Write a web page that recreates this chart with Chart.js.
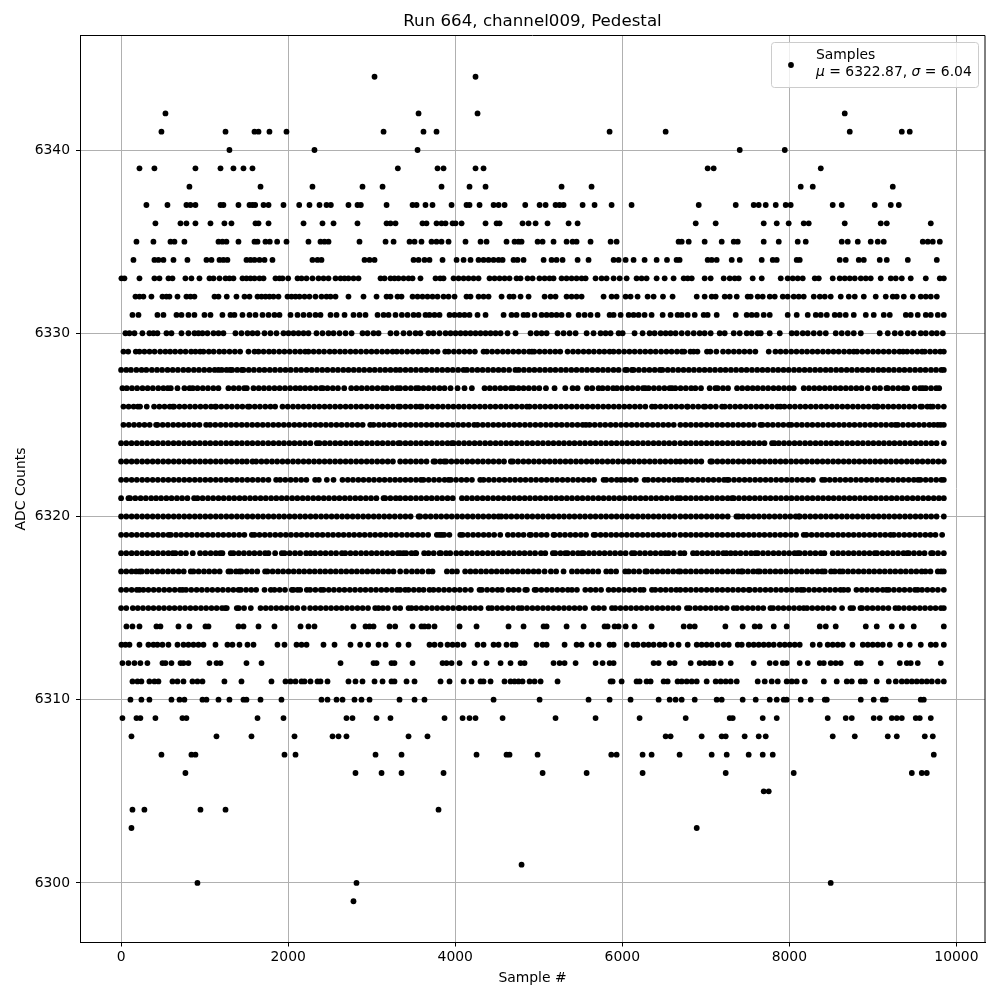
<!DOCTYPE html>
<html>
<head>
<meta charset="utf-8">
<title>Run 664, channel009, Pedestal</title>
<script src="https://cdn.jsdelivr.net/npm/chart.js@4"></script>
<style>
  html, body { margin: 0; padding: 0; background: #fff; }
  #wrap { width: 1000px; height: 1000px; }
</style>
</head>
<body>
<div id="wrap"><canvas id="pedestal"></canvas></div>
<script>
// sample numbers, one list per ADC level
const s6344 = [3034,4243];
const s6342 = [531,3561,4267,8663];
const s6341 = [483,1250,1597,1645,1776,1980,3142,3620,3776,5848,6519,8723,9346,9441];
const s6340 = [1297,2315,3549,7406,7945];
const s6339 = [220,399,890,1190,1345,1465,1573,3313,3788,3860,4243,4339,7022,7094,8376];
const s6338 = [818,1669,2291,2890,3130,3836,4171,4363,5273,5632,8136,8280,9238];
const s6337 = [303,555,782,830,890,1190,1225,1405,1537,1573,1605,1705,1765,1944,2132,2255,2375,2459,2511,2722,2830,2870,3178,3489,3537,3644,3728,3956,4135,4171,4291,4459,4519,4591,4838,5010,5082,5201,5249,5297,5525,5668,5872,6111,6915,7358,7573,7633,7717,7837,7956,8016,8519,8627,9022,9214,9310];
const s6336 = [411,711,782,890,1070,1237,1321,1609,1645,1765,2184,2411,2543,2830,3178,3225,3285,3608,3656,3776,3836,3884,3968,4004,4076,4363,4495,4531,4806,4878,4962,5105,5357,5465,6879,7118,7693,7849,7992,8172,8232,8663,9094,9166,9693];
const s6335 = [184,387,591,639,758,1166,1213,1261,1405,1597,1633,1728,1780,1868,1980,2243,2387,2435,2483,2854,3166,3262,3453,3513,3596,3716,3776,3836,3920,4123,4303,4375,4614,4710,4758,4794,4986,5046,5177,5333,5405,5453,5620,5860,5932,6674,6711,6795,6986,7190,7334,7382,7693,7873,8100,8196,8627,8699,8819,8974,9058,9130,9597,9657,9717,9801];
const s6334 = [148,399,447,507,627,794,1022,1082,1178,1225,1273,1501,1549,1597,1657,1717,1812,2291,2351,2399,2914,2974,3034,3501,3561,3632,3692,3848,4016,4100,4183,4279,4339,4399,4459,4519,4567,4698,4746,4818,5058,5153,5213,5285,5465,5596,5896,5956,6040,6135,6267,6411,6535,6650,6686,7022,7070,7130,7310,7406,7669,7801,7849,8088,8124,8603,8675,8831,8891,9082,9166,9418,9765];
const s6333 = [4,40,220,399,459,567,615,770,842,938,1058,1106,1178,1250,1297,1345,1453,1501,1549,1597,1657,1705,1848,1896,1932,2000,2112,2160,2220,2291,2363,2423,2483,2567,2627,2675,2722,2782,2842,3106,3154,3225,3273,3321,3381,3441,3489,3584,3764,3820,3860,3980,4040,4100,4159,4219,4279,4411,4471,4531,4591,4650,4734,4782,4866,4926,5008,5070,5129,5177,5273,5333,5393,5453,5513,5561,5680,5752,5812,5896,5968,6052,6171,6231,6291,6411,6507,6614,6735,6783,6831,6986,7058,7214,7286,7346,7394,7561,7669,7897,7980,8040,8100,8160,8304,8352,8519,8603,8663,8723,8783,8855,8915,8974,9094,9214,9274,9346,9453,9633,9801,9849];
const s6332 = [172,220,267,363,495,543,579,675,782,830,878,1118,1166,1265,1381,1477,1537,1633,1681,1729,1776,1824,1884,1992,2040,2088,2136,2196,2255,2327,2399,2459,2507,2567,2722,2902,3058,3178,3225,3309,3357,3489,3549,3608,3668,3728,3788,3860,3920,3992,4135,4183,4279,4339,4399,4555,4650,4698,4782,4878,5070,5141,5201,5333,5393,5453,5513,5776,5872,5932,6040,6099,6183,6303,6375,6487,6602,6891,6986,7070,7118,7226,7286,7370,7501,7537,7621,7681,7765,7825,7921,7980,8052,8112,8172,8292,8364,8424,8495,8615,8711,8783,8891,9034,9154,9238,9286,9370,9477,9573,9633,9693,9765];
const s6331 = [136,208,435,507,663,723,806,878,998,1070,1213,1309,1357,1453,1537,1609,1693,1765,1836,1896,2028,2112,2184,2255,2327,2387,2507,2579,2675,2782,2854,2926,3070,3142,3202,3285,3361,3429,3501,3561,3644,3692,3752,3812,3932,3992,4052,4111,4171,4267,4363,4579,4674,4734,4818,4866,4950,5034,5094,5153,5213,5273,5357,5477,5549,5620,5704,5848,5896,5980,6076,6135,6195,6267,6351,6483,6578,6662,6711,6783,6867,6974,7022,7130,7358,7489,7549,7609,7693,7765,7980,8088,8220,8316,8376,8448,8543,8603,8675,8771,8915,9010,9130,9202,9394,9453,9537,9633,9693,9777,9849];
const s6330 = [52,100,160,255,339,387,435,543,603,723,806,878,926,974,1034,1106,1166,1225,1369,1441,1513,1573,1633,1717,1788,1860,1944,2004,2064,2124,2184,2243,2339,2411,2483,2543,2615,2687,2759,2890,2950,3022,3082,3225,3297,3381,3453,3525,3584,3680,3740,3812,3884,3944,4004,4064,4123,4183,4243,4303,4363,4423,4483,4543,4626,4722,4902,4974,5034,5094,5225,5297,5369,5441,5573,5656,5740,5800,5860,5956,6004,6147,6243,6327,6387,6459,6519,6578,6638,6711,6783,6855,6926,6986,7058,7166,7226,7334,7406,7489,7549,7621,7657,7765,7885,8028,8088,8160,8220,8292,8364,8436,8555,8627,8699,8771,8855,9082,9178,9262,9334,9418,9489,9573,9633,9705,9765,9837];
const s6329 = [28,85,176,220,279,340,401,468,530,587,647,710,772,838,890,946,986,1050,1108,1175,1233,1298,1362,1425,1525,1597,1645,1706,1770,1828,1893,1955,2018,2083,2144,2204,2243,2305,2368,2430,2497,2556,2620,2681,2746,2808,2871,2935,2998,3060,3125,3186,3250,3301,3361,3425,3490,3552,3612,3660,3725,3788,3880,3920,3984,4046,4110,4172,4235,4339,4379,4442,4505,4570,4631,4695,4758,4822,4885,4918,4946,5010,5072,5135,5198,5257,5345,5410,5472,5536,5598,5660,5725,5785,5848,5896,5958,6022,6085,6148,6212,6275,6338,6400,6465,6528,6590,6654,6714,6742,6815,6854,6900,7014,7054,7126,7206,7270,7335,7398,7462,7526,7593,7753,7833,7895,7958,8022,8085,8150,8212,8276,8338,8402,8465,8528,8590,8655,8718,8771,8811,8874,8938,9002,9064,9128,9190,9255,9318,9362,9410,9470,9532,9589,9621,9684,9746,9806,9849];
const s6328 = [0,62,118,183,245,302,368,430,491,556,618,680,745,806,871,932,995,1058,1120,1165,1205,1262,1305,1330,1390,1445,1465,1528,1590,1655,1716,1780,1842,1905,1968,2030,2095,2156,2220,2282,2345,2408,2470,2535,2596,2660,2722,2785,2848,2910,2975,3036,3100,3162,3225,3288,3341,3405,3468,3530,3594,3656,3720,3782,3845,3908,3970,4035,4100,4140,4202,4266,4328,4392,4455,4518,4580,4645,4720,4760,4822,4886,4948,5012,5075,5138,5200,5265,5326,5390,5452,5516,5578,5642,5705,5768,5830,5895,5956,6035,6055,6115,6135,6198,6262,6325,6388,6450,6480,6544,6606,6670,6733,6796,6858,6922,6985,7048,7110,7175,7236,7300,7362,7426,7488,7552,7615,7678,7740,7805,7866,7930,7992,8056,8118,8182,8245,8308,8370,8435,8496,8560,8622,8686,8748,8812,8875,8938,9000,9065,9126,9190,9252,9316,9378,9442,9505,9568,9630,9695,9756,9820,9849];
const s6327 = [16,68,130,192,256,318,380,445,506,559,595,675,758,820,858,915,978,1040,1104,1165,1285,1348,1410,1474,1505,1585,1648,1710,1772,1836,1898,1962,2024,2088,2144,2204,2266,2330,2392,2415,2471,2534,2596,2671,2755,2818,2880,2944,3006,3070,3134,3181,3245,3305,3341,3404,3468,3530,3561,3620,3682,3746,3812,3872,3944,4028,4111,4199,4351,4414,4476,4540,4602,4666,4698,4758,4818,4880,4944,5006,5086,5189,5317,5405,5465,5577,5640,5716,5764,5826,5890,5936,5996,6060,6122,6186,6248,6275,6315,6378,6440,6504,6566,6595,6635,6698,6760,6824,6875,6942,7046,7114,7142,7205,7266,7374,7436,7500,7561,7621,7684,7746,7810,7872,7936,7998,8052,8172,8235,8298,8360,8424,8486,8550,8612,8676,8738,8802,8864,8939,9022,9085,9162,9178,9240,9304,9366,9410,9501,9564,9597,9633,9696,9758,9793];
const s6326 = [28,90,150,200,227,307,395,458,520,582,619,635,698,760,824,886,950,1012,1076,1126,1138,1200,1264,1326,1390,1452,1517,1537,1600,1662,1726,1788,1844,1932,1995,2058,2120,2184,2246,2310,2372,2436,2498,2562,2624,2688,2750,2814,2876,2940,3002,3066,3128,3192,3254,3318,3341,3404,3466,3530,3580,3600,3664,3726,3790,3852,3916,3978,4042,4104,4168,4230,4294,4356,4420,4482,4546,4608,4672,4734,4798,4858,4890,4953,5016,5078,5142,5204,5268,5330,5394,5456,5520,5582,5646,5708,5772,5834,5898,5960,6024,6086,6150,6212,6276,6355,6395,6458,6520,6584,6646,6710,6774,6783,6846,6910,6975,6994,7056,7120,7194,7226,7288,7352,7414,7478,7540,7604,7666,7730,7792,7856,7893,7941,8004,8066,8130,8192,8256,8318,8382,8444,8508,8570,8634,8696,8760,8822,8886,8948,9012,9050,9058,9120,9184,9246,9310,9372,9436,9498,9569,9589,9652,9689,9717,9780,9849];
const s6325 = [28,92,155,217,280,342,419,435,498,560,624,686,750,812,876,938,1018,1066,1128,1192,1254,1318,1380,1444,1506,1570,1632,1696,1758,1822,1884,1948,2010,2074,2136,2200,2262,2326,2388,2452,2514,2578,2640,2704,2766,2830,2892,2982,3022,3086,3148,3212,3274,3341,3404,3466,3530,3592,3656,3718,3782,3844,3908,3970,4034,4096,4160,4227,4267,4330,4392,4456,4518,4582,4644,4708,4770,4834,4896,4960,5022,5086,5148,5212,5274,5338,5400,5464,5526,5565,5608,5670,5734,5796,5860,5922,5986,6048,6112,6174,6238,6300,6364,6426,6490,6552,6616,6695,6758,6820,6884,6946,7010,7072,7136,7198,7262,7324,7388,7450,7514,7576,7653,7677,7740,7802,7866,7928,7992,8024,8088,8150,8214,8276,8340,8402,8466,8528,8592,8654,8718,8780,8844,8906,8970,9032,9096,9158,9222,9270,9298,9360,9424,9486,9550,9612,9676,9729,9777,9812,9849];
const s6324 = [0,62,125,188,250,312,376,438,502,564,628,690,754,816,880,942,1006,1068,1132,1194,1258,1320,1384,1446,1510,1572,1636,1698,1762,1824,1888,1950,2014,2076,2140,2202,2266,2343,2375,2438,2500,2564,2626,2690,2752,2816,2878,2942,3004,3068,3130,3194,3256,3320,3341,3404,3466,3530,3592,3656,3718,3782,3844,3908,3960,3980,4042,4106,4168,4232,4294,4358,4420,4484,4546,4610,4672,4736,4798,4862,4924,4988,5050,5114,5176,5240,5302,5366,5428,5492,5554,5618,5680,5744,5806,5870,5932,5996,6058,6122,6184,6248,6310,6374,6436,6500,6562,6626,6695,6758,6820,6884,6946,7010,7072,7136,7198,7262,7324,7388,7450,7514,7576,7640,7702,7793,7821,7873,7936,7998,8062,8124,8188,8250,8314,8376,8440,8502,8566,8628,8692,8754,8818,8880,8944,9006,9070,9132,9196,9258,9322,9384,9448,9510,9574,9636,9700,9762,9849];
const s6323 = [0,63,126,188,252,314,378,440,504,566,630,692,756,818,882,944,1008,1070,1134,1196,1260,1322,1386,1448,1505,1573,1617,1680,1742,1806,1868,1932,1994,2058,2120,2184,2246,2310,2372,2436,2498,2562,2624,2688,2750,2814,2876,2940,3002,3066,3128,3192,3254,3341,3404,3466,3530,3592,3656,3740,3760,3820,3868,3892,3954,4018,4080,4144,4206,4270,4332,4396,4458,4522,4584,4666,4690,4752,4816,4878,4942,5004,5068,5130,5194,5256,5320,5382,5446,5508,5572,5634,5698,5760,5824,5886,5950,6012,6076,6138,6202,6264,6328,6390,6454,6516,6580,6642,6695,6758,6820,6884,6946,7055,7075,7138,7200,7264,7326,7390,7452,7516,7578,7642,7704,7768,7830,7894,7956,8020,8082,8146,8208,8272,8334,8398,8460,8524,8586,8650,8712,8776,8838,8902,8964,9028,9090,9154,9216,9280,9342,9406,9468,9532,9594,9658,9720,9784,9849];
const s6322 = [0,62,126,188,252,314,378,440,504,566,630,692,756,818,882,944,1008,1070,1134,1196,1260,1322,1386,1448,1512,1574,1638,1700,1764,1856,1904,1966,2030,2092,2156,2218,2323,2367,2463,2543,2650,2714,2776,2840,2902,2966,3028,3092,3154,3218,3280,3341,3404,3466,3530,3589,3620,3682,3746,3808,3872,3920,3948,4010,4074,4136,4200,4299,4339,4402,4464,4528,4590,4654,4716,4780,4842,4906,4968,5032,5094,5158,5220,5284,5346,5410,5472,5536,5598,5662,5776,5808,5870,5934,5984,6036,6098,6162,6267,6307,6370,6432,6496,6558,6622,6674,6715,6778,6840,6904,6966,7030,7092,7156,7218,7254,7274,7338,7400,7464,7526,7590,7652,7716,7778,7842,7904,7968,8030,8094,8156,8220,8282,8392,8424,8483,8546,8608,8672,8734,8798,8860,8924,8986,9050,9112,9176,9238,9302,9364,9428,9490,9541,9569,9632,9694,9758,9820,9849];
const s6321 = [0,88,108,170,234,296,360,419,479,542,604,668,730,794,874,914,976,1040,1102,1166,1228,1292,1354,1418,1480,1544,1606,1670,1732,1796,1858,1922,1984,2048,2110,2174,2236,2300,2362,2426,2488,2552,2614,2678,2740,2804,2866,2930,2992,3056,3142,3162,3224,3288,3341,3404,3466,3530,3592,3656,3718,3782,3844,3908,3970,4080,4139,4202,4264,4328,4390,4454,4516,4580,4642,4706,4768,4832,4894,4958,5020,5084,5146,5210,5272,5336,5398,5462,5524,5588,5650,5714,5776,5840,5902,5966,6028,6092,6154,6218,6280,6344,6406,6470,6532,6596,6658,6695,6758,6820,6884,6946,7010,7072,7136,7198,7262,7314,7334,7396,7460,7522,7586,7648,7712,7774,7838,7900,7964,8026,8090,8152,8216,8278,8342,8404,8468,8530,8594,8656,8720,8782,8846,8908,8972,9034,9098,9160,9224,9286,9350,9412,9476,9538,9602,9664,9728,9790,9849];
const s6320 = [0,62,126,188,252,314,378,440,504,566,630,692,756,818,882,944,1008,1070,1134,1196,1260,1322,1386,1448,1512,1574,1638,1700,1764,1826,1890,1952,2016,2078,2142,2204,2268,2330,2394,2456,2520,2582,2646,2708,2772,2834,2898,2960,3024,3086,3150,3212,3276,3341,3404,3466,3561,3581,3644,3706,3770,3832,3896,3958,4022,4084,4148,4210,4274,4336,4400,4462,4519,4551,4610,4672,4736,4798,4862,4924,4988,5050,5114,5176,5240,5302,5366,5428,5492,5554,5618,5680,5744,5806,5870,5932,5996,6058,6122,6184,6248,6310,6374,6436,6500,6562,6626,6695,6758,6820,6884,6946,7010,7072,7136,7198,7262,7366,7394,7446,7508,7572,7634,7698,7760,7824,7886,7950,8012,8076,8112,8124,8186,8250,8312,8376,8438,8502,8564,8628,8690,8754,8816,8880,8942,9006,9068,9132,9194,9258,9320,9384,9446,9510,9572,9636,9698,9762,9849];
const s6319 = [0,62,126,188,252,314,378,440,504,567,595,658,720,784,846,910,972,1036,1098,1162,1224,1288,1350,1414,1476,1565,1597,1657,1720,1782,1846,1908,1972,2034,2098,2160,2224,2286,2350,2412,2476,2538,2602,2664,2728,2790,2854,2916,2980,3042,3106,3168,3232,3294,3361,3424,3486,3550,3612,3676,3780,3812,3840,3868,3930,4060,4088,4150,4214,4276,4340,4402,4466,4539,4630,4692,4756,4818,4890,4906,4968,5032,5094,5177,5189,5252,5314,5378,5440,5504,5566,5657,5677,5740,5802,5866,5928,5992,6054,6118,6180,6244,6306,6370,6432,6496,6558,6622,6695,6758,6820,6884,6946,7010,7072,7136,7198,7262,7324,7388,7450,7514,7576,7640,7702,7766,7828,7892,7954,8018,8080,8172,8204,8266,8330,8392,8456,8518,8582,8644,8708,8770,8834,8896,8960,9022,9086,9148,9210,9250,9312,9376,9438,9502,9564,9628,9689,9749,9829];
const s6318 = [0,62,126,188,252,314,378,440,504,566,619,651,714,776,858,946,1008,1072,1134,1186,1213,1313,1345,1408,1470,1534,1596,1660,1724,1764,1844,1924,1956,2018,2082,2144,2215,2267,2323,2386,2448,2512,2574,2643,2683,2746,2808,2872,2934,2998,3060,3124,3186,3250,3312,3341,3381,3413,3476,3521,3533,3628,3680,3742,3812,3828,3890,3940,4012,4074,4138,4200,4264,4326,4390,4452,4516,4578,4642,4704,4768,4830,4894,4956,5026,5078,5169,5197,5260,5317,5345,5408,5470,5517,5537,5600,5662,5726,5788,5852,5914,5978,6040,6115,6147,6210,6272,6336,6398,6462,6515,6554,6616,6694,6743,6847,6895,6958,7020,7084,7146,7210,7246,7298,7354,7416,7480,7542,7593,7621,7684,7746,7810,7872,7936,7998,8062,8100,8124,8186,8250,8312,8376,8419,8519,8582,8644,8708,8770,8834,8896,8960,9022,9050,9114,9176,9240,9302,9366,9410,9430,9492,9556,9618,9697,9717,9780,9849];
const s6317 = [0,62,126,180,220,247,310,372,436,498,562,624,688,750,834,866,928,992,1054,1118,1180,1285,1313,1376,1417,1441,1504,1566,1630,1724,1752,1814,1878,1940,2004,2066,2130,2192,2256,2318,2382,2444,2508,2570,2634,2696,2760,2822,2886,2948,3012,3074,3138,3200,3261,3341,3413,3481,3544,3606,3680,3728,3900,3962,4020,4119,4182,4244,4308,4370,4434,4496,4560,4622,4686,4748,4812,4874,4938,4998,5070,5145,5208,5297,5397,5460,5522,5586,5648,5712,5808,5864,5926,6036,6076,6138,6202,6275,6295,6358,6420,6484,6546,6610,6672,6695,6758,6820,6884,6946,7010,7072,7136,7198,7262,7324,7388,7426,7442,7504,7568,7621,7645,7708,7770,7834,7896,7960,8022,8086,8148,8212,8274,8338,8392,8424,8499,8543,8603,8639,8702,8764,8828,8890,8954,9016,9080,9142,9206,9268,9332,9394,9458,9520,9584,9629,9689,9777,9817,9849];
const s6316 = [0,62,126,188,220,267,327,390,452,516,578,642,704,738,778,840,904,966,1030,1092,1156,1218,1282,1344,1405,1433,1496,1558,1617,1717,1792,1836,1898,1962,2044,2064,2112,2144,2223,2263,2326,2391,2423,2486,2548,2612,2674,2738,2800,2864,2926,2990,3052,3116,3178,3242,3304,3341,3401,3441,3504,3566,3621,3692,3740,3802,3866,3928,3992,4054,4119,4187,4291,4319,4382,4444,4508,4559,4638,4698,4760,4838,4858,4950,4970,5032,5096,5158,5222,5284,5348,5397,5457,5557,5620,5682,5746,5836,5896,5958,6022,6084,6148,6215,6255,6355,6395,6458,6520,6584,6646,6695,6758,6820,6884,6946,7010,7072,7136,7198,7262,7324,7388,7450,7513,7525,7588,7650,7714,7776,7840,7902,7966,8028,8092,8140,8172,8234,8298,8360,8424,8486,8550,8612,8651,8703,8803,8866,8928,8992,9054,9118,9162,9190,9252,9316,9378,9442,9504,9537,9589,9652,9714,9778,9849];
const s6315 = [0,62,140,200,262,326,388,452,514,578,640,704,766,830,892,956,1018,1082,1144,1208,1245,1265,1385,1409,1472,1553,1669,1732,1794,1858,1920,1984,2046,2110,2188,2263,2326,2388,2452,2514,2578,2640,2704,2766,2830,2892,2956,3042,3082,3134,3194,3281,3341,3441,3477,3533,3596,3658,3722,3784,3848,3910,3974,4040,4052,4114,4178,4240,4304,4399,4439,4502,4564,4628,4690,4758,4798,4860,4924,4986,5050,5112,5176,5238,5302,5364,5428,5490,5554,5657,5716,5780,5876,5916,5978,6042,6104,6168,6230,6294,6356,6420,6482,6546,6608,6672,6774,6806,6874,6935,6998,7060,7124,7186,7250,7334,7374,7436,7500,7562,7626,7688,7773,7805,7868,7930,7994,8056,8120,8172,8212,8274,8338,8400,8464,8531,8631,8731,8763,8851,8871,8934,8996,9060,9122,9186,9270,9310,9372,9436,9498,9562,9624,9688,9750,9814,9849];
const s6314 = [64,136,220,423,471,687,818,1010,1046,1405,1465,1645,1836,2148,2243,2315,2782,2926,2974,3022,3214,3281,3489,3596,3632,3680,3752,4052,4255,4638,4818,5058,5094,5333,5537,5788,5824,5908,5956,6040,6147,6351,6735,6807,6867,7234,7441,7585,7645,7813,7968,8364,8436,8555,8915,9046,9226,9346,9489,9849];
const s6313 = [4,52,100,220,327,387,435,495,567,675,747,806,866,926,986,1130,1273,1333,1417,1513,1585,1872,1956,2100,2160,2220,2423,2555,2746,2862,2958,3082,3166,3321,3441,3692,3752,3824,3908,3968,4028,4100,4267,4339,4459,4519,4614,4686,4722,4974,5046,5094,5309,5453,5513,5632,5716,5848,5896,6052,6135,6183,6255,6315,6375,6447,6507,6590,6674,6783,6891,6950,7010,7070,7142,7214,7274,7382,7430,7513,7573,7633,7693,7753,7813,7885,7945,8004,8064,8124,8280,8364,8459,8519,8579,8639,8755,8879,8939,8998,9058,9118,9202,9330,9441,9573,9693,9753,9849];
const s6312 = [16,88,160,231,315,495,531,603,711,747,806,1058,1142,1190,1501,1681,2627,3022,3058,3237,3273,3489,3848,3896,3956,4052,4231,4375,4543,4662,4782,4830,5177,5249,5309,5441,5680,5764,5848,5896,6375,6435,6567,6626,6819,6926,6986,7046,7094,7178,7298,7573,7765,7837,7921,7968,8124,8220,8364,8412,8495,8555,8615,8807,8855,9094,9322,9406,9453,9537,9813];
const s6311 = [136,196,243,339,399,447,615,675,747,854,914,974,1237,1441,1800,1968,2028,2088,2160,2196,2267,2351,2387,2471,2722,2806,2890,3034,3130,3237,3273,3417,3513,3824,3932,4100,4195,4303,4339,4423,4590,4662,4710,4758,4806,4890,4950,5022,5225,5860,5884,5992,6171,6207,6291,6339,6495,6543,6662,6711,6771,6831,6891,7010,7118,7178,7238,7298,7370,7621,7705,7789,7861,7968,8028,8088,8184,8412,8567,8687,8747,8855,8903,9046,9190,9274,9346,9406,9466,9525,9585,9645,9705,9777,9849];
const s6310 = [112,243,339,603,699,758,974,1022,1166,1297,1465,1501,1669,1920,2399,2471,2579,2651,2794,2878,2974,3333,3513,3632,4459,5010,5596,5848,6099,6435,6567,6638,6711,6867,7130,7190,7441,7597,7765,7849,7933,7968,8136,8256,8424,8448,8855,9010,9118,9154,9573,9609];
const s6309 = [16,184,231,411,734,782,1633,1944,2698,2770,3058,3225,3872,4088,4171,4243,4567,5201,5680,6207,6759,7286,7322,7681,7849,8459,8675,8747,9010,9082,9226,9286,9346,9513,9561,9693];
const s6308 = [124,1142,1561,2076,2531,2603,2698,3441,3668,6519,6578,6950,7190,7238,7465,7633,7717,8519,8783,9178,9286,9621,9717];
const s6307 = [483,842,890,1956,2088,3046,3357,4255,4614,4650,4986,5868,5932,6243,6351,6686,7070,7250,7513,7681,7801,9729];
const s6306 = [770,2806,3118,3357,3860,5046,5573,6243,7238,8052,9466,9585,9645];
const s6305 = [7693,7753];
const s6304 = [136,279,950,1250,3800];
const s6303 = [124,6891];
const s6301 = [4794];
const s6300 = [914,2818,8495];
const s6299 = [2782];

const levels = [6344,6342,6341,6340,6339,6338,6337,6336,6335,6334,6333,6332,6331,6330,6329,6328,6327,6326,6325,6324,6323,6322,6321,6320,6319,6318,6317,6316,6315,6314,6313,6312,6311,6310,6309,6308,6307,6306,6305,6304,6303,6301,6300,6299];
const sampleRows = [s6344,s6342,s6341,s6340,s6339,s6338,s6337,s6336,s6335,s6334,s6333,s6332,s6331,s6330,s6329,s6328,s6327,s6326,s6325,s6324,s6323,s6322,s6321,s6320,s6319,s6318,s6317,s6316,s6315,s6314,s6313,s6312,s6311,s6310,s6309,s6308,s6307,s6306,s6305,s6304,s6303,s6301,s6300,s6299];

const xTickValues = [0,2000,4000,6000,8000,10000];
const yTickValues = [6300,6310,6320,6330,6340];

const titleText = "Run 664, channel009, Pedestal";
const xLabel = "Sample #";
const yLabel = "ADC Counts";
const seriesName = "Samples";
const meanValue = "6322.87";
const sigmaValue = "6.04";

const FONT = '"DejaVu Sans", sans-serif';
const points = [];
levels.forEach((lvl, i) => sampleRows[i].forEach(s => points.push({ x: s, y: lvl })));

// top and right spines, title centred on the axes, mathtext legend
const framePlugin = {
  id: "frame",
  afterLayout(chart) {
    chart.titleBlock.left = chart.chartArea.left;
    chart.titleBlock.right = chart.chartArea.right;
  },
  afterDatasetsDraw(chart) {
    const { ctx, chartArea: a } = chart;
    ctx.save();
    ctx.strokeStyle = "#000";
    ctx.lineWidth = 1;
    ctx.beginPath();
    ctx.moveTo(a.left, a.top);
    ctx.lineTo(a.right, a.top);
    ctx.lineTo(a.right, a.bottom);
    ctx.stroke();

    // legend box
    ctx.beginPath();
    ctx.roundRect(771.5, 42.5, 207, 45, 3);
    ctx.fillStyle = "rgba(255,255,255,0.8)";
    ctx.fill();
    ctx.strokeStyle = "#cccccc";
    ctx.stroke();
    ctx.fillStyle = "#000";
    ctx.beginPath();
    ctx.arc(791, 65, 2.9, 0, Math.PI * 2);
    ctx.fill();

    ctx.textBaseline = "alphabetic";
    ctx.textAlign = "left";
    const plain = "13.9px " + FONT, ital = "italic 13.9px " + FONT;
    ctx.font = plain;
    ctx.fillText(seriesName, 816, 59);
    let x = 816;
    [[ital, "\u03bc"], [plain, " = " + meanValue + ", "], [ital, "\u03c3"], [plain, " = " + sigmaValue]].forEach(([f, t]) => {
      ctx.font = f;
      ctx.fillText(t, x, 76);
      x += ctx.measureText(t).width;
    });
    ctx.restore();
  }
};

new Chart(document.getElementById("pedestal"), {
  type: "scatter",
  data: {
    datasets: [{
      label: seriesName,
      data: points,
      backgroundColor: "#000",
      borderWidth: 0,
      pointRadius: 2.9,
      pointHoverRadius: 2.9
    }]
  },
  plugins: [framePlugin],
  options: {
    responsive: true,
    maintainAspectRatio: false,
    animation: false,
    layout: { padding: { right: 15 } },
    plugins: {
      legend: { display: false },
      tooltip: { enabled: false },
      title: {
        display: true,
        text: titleText,
        color: "#000",
        font: { family: FONT, size: 16.67, weight: "normal", lineHeight: 1.2 },
        padding: { top: 12, bottom: 3.5 }
      }
    },
    scales: {
      x: {
        type: "linear",
        min: -492,
        max: 10342,
        afterFit(scale) { scale.height = 57.5; },
        afterBuildTicks(scale) { scale.ticks = xTickValues.map(v => ({ value: v })); },
        title: { display: true, text: xLabel, color: "#000", font: { family: FONT, size: 13.9 }, padding: { top: 6, bottom: 13 } },
        ticks: { maxRotation: 0, color: "#000", padding: 3, font: { family: FONT, size: 13.9 }, callback: v => String(v) },
        grid: { color: "#b0b0b0", lineWidth: 1, tickColor: "#000", tickLength: 4 },
        border: { color: "#000", width: 1 }
      },
      y: {
        min: 6296.75,
        max: 6346.25,
        afterFit(scale) { scale.width = 80; },
        afterBuildTicks(scale) { scale.ticks = yTickValues.map(v => ({ value: v })); },
        title: { display: true, text: yLabel, color: "#000", font: { family: FONT, size: 13.9 }, padding: { top: 13, bottom: 6 } },
        ticks: { color: "#000", padding: 6, font: { family: FONT, size: 13.9 }, callback: v => String(v) },
        grid: { color: "#b0b0b0", lineWidth: 1, tickColor: "#000", tickLength: 4 },
        border: { color: "#000", width: 1 }
      }
    }
  }
});
</script>
</body>
</html>
